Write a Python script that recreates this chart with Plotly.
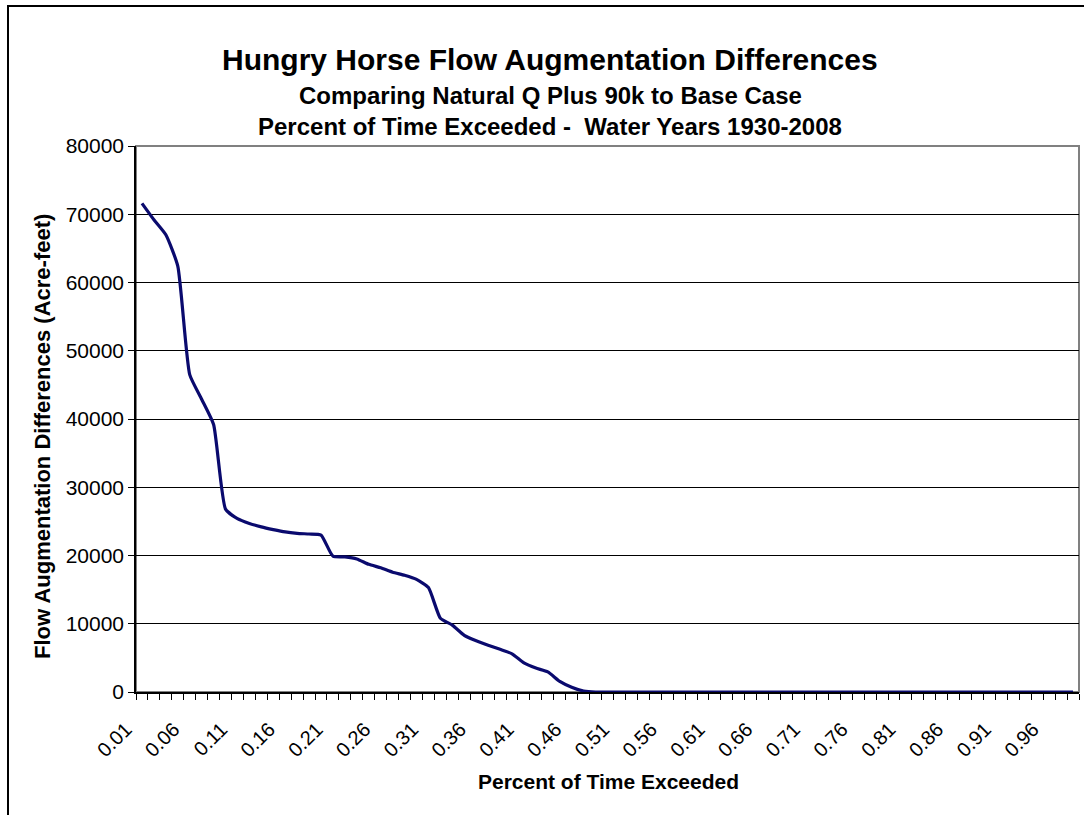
import plotly.graph_objects as go

# Rank of each water year (1..79), plotted at exceedance rank/(n+1)
ranks = list(range(1, 80))
flow_diff = [
    71600, 69200, 67000, 62400, 46500, 42900, 39200, 26800, 25400, 24700,
    24200, 23800, 23450, 23250, 23150, 23000, 19900, 19800, 19500, 18700,
    18200, 17550, 17100, 16500, 15300, 10800, 9800, 8300, 7500, 6850,
    6250, 5600, 4250, 3500, 2950, 1550, 700, 150, 0, 0,
    0, 0, 0, 0, 0, 0, 0, 0, 0, 0,
    0, 0, 0, 0, 0, 0, 0, 0, 0, 0,
    0, 0, 0, 0, 0, 0, 0, 0, 0, 0,
    0, 0, 0, 0, 0, 0, 0, 0, 0,
]
tick_ranks = [1, 5, 9, 13, 17, 21, 25, 29, 33, 37, 41, 45, 49, 53, 57, 61, 65, 69, 73, 77]
tick_labels = ["0.01", "0.06", "0.11", "0.16", "0.21", "0.26", "0.31", "0.36", "0.41", "0.46",
               "0.51", "0.56", "0.61", "0.66", "0.71", "0.76", "0.81", "0.86", "0.91", "0.96"]
y_ticks = [0, 10000, 20000, 30000, 40000, 50000, 60000, 70000, 80000]

title_lines = [
    "Hungry Horse Flow Augmentation Differences",
    "Comparing Natural Q Plus 90k to Base Case",
    "Percent of Time Exceeded -  Water Years 1930-2008",
]
x_title = "Percent of Time Exceeded"
y_title = "Flow Augmentation Differences (Acre-feet)"

FONT = "Liberation Sans, Arial, sans-serif"
L, R, T, B = 136, 5, 146, 123
PW, PH = 1084 - L - R, 815 - T - B


def px_x(x):
    return (x - L) / PW


def px_y(y):
    return (815 - B - y) / PH


fig = go.Figure()
fig.add_trace(go.Scatter(
    x=ranks, y=flow_diff, mode="lines",
    line=dict(color="#0a0a6e", width=3.2, shape="spline", smoothing=0.5),
    showlegend=False, hoverinfo="skip",
))

fig.update_layout(
    width=1084, height=815,
    margin=dict(l=L, r=R, t=T, b=B),
    paper_bgcolor="white", plot_bgcolor="white",
    font=dict(family=FONT, color="black"),
    showlegend=False,
)

fig.update_xaxes(
    range=[0.5, 79.5],
    tickmode="array", tickvals=tick_ranks, ticktext=tick_labels,
    tickangle=-45, ticks="", tickfont=dict(size=20, family=FONT),
    ticklabelstandoff=16, ticklabelshift=-16,
    showgrid=False, zeroline=False,
    showline=True, linecolor="black", linewidth=1.5,
    minor=dict(tickmode="linear", tick0=0.5, dtick=1, ticks="outside",
               ticklen=6, tickcolor="black", tickwidth=1, showgrid=False),
)
fig.update_yaxes(
    range=[0, 80000],
    tickmode="array", tickvals=y_ticks, ticktext=[str(v) for v in y_ticks],
    ticks="outside", ticklen=6, tickcolor="black", tickwidth=1,
    tickfont=dict(size=21, family=FONT),
    showgrid=True, gridcolor="black", gridwidth=1,
    zeroline=False,
    showline=True, linecolor="black", linewidth=1.5,
)

# plot area border (gray top/right)
fig.add_shape(type="rect", xref="paper", yref="paper", x0=0, y0=0, x1=1, y1=1,
              line=dict(color="#808080", width=2), layer="below")
# outer chart border
fig.add_shape(type="rect", xref="paper", yref="paper",
              x0=px_x(8), y0=px_y(830), x1=px_x(1100), y1=px_y(6),
              line=dict(color="black", width=2))

title_specs = [(title_lines[0], 30, 60), (title_lines[1], 24, 95), (title_lines[2], 24, 127)]
for text, size, ypx in title_specs:
    fig.add_annotation(
        text=f"<b>{text}</b>", xref="paper", yref="paper",
        x=px_x(550), y=px_y(ypx), xanchor="center", yanchor="middle",
        showarrow=False, font=dict(size=size, family=FONT, color="black"),
    )

# axis titles
fig.add_annotation(
    text=f"<b>{x_title}</b>", xref="paper", yref="paper",
    x=px_x(608), y=px_y(781), xanchor="center", yanchor="middle",
    showarrow=False, font=dict(size=21, family=FONT, color="black"),
)
fig.add_annotation(
    text=f"<b>{y_title}</b>", xref="paper", yref="paper", textangle=-90,
    x=px_x(42), y=px_y(437), xanchor="center", yanchor="middle",
    showarrow=False, font=dict(size=22, family=FONT, color="black"),
)

fig.write_html("out.html", config={"displayModeBar": False},
               post_script="document.body.style.margin='0';")
